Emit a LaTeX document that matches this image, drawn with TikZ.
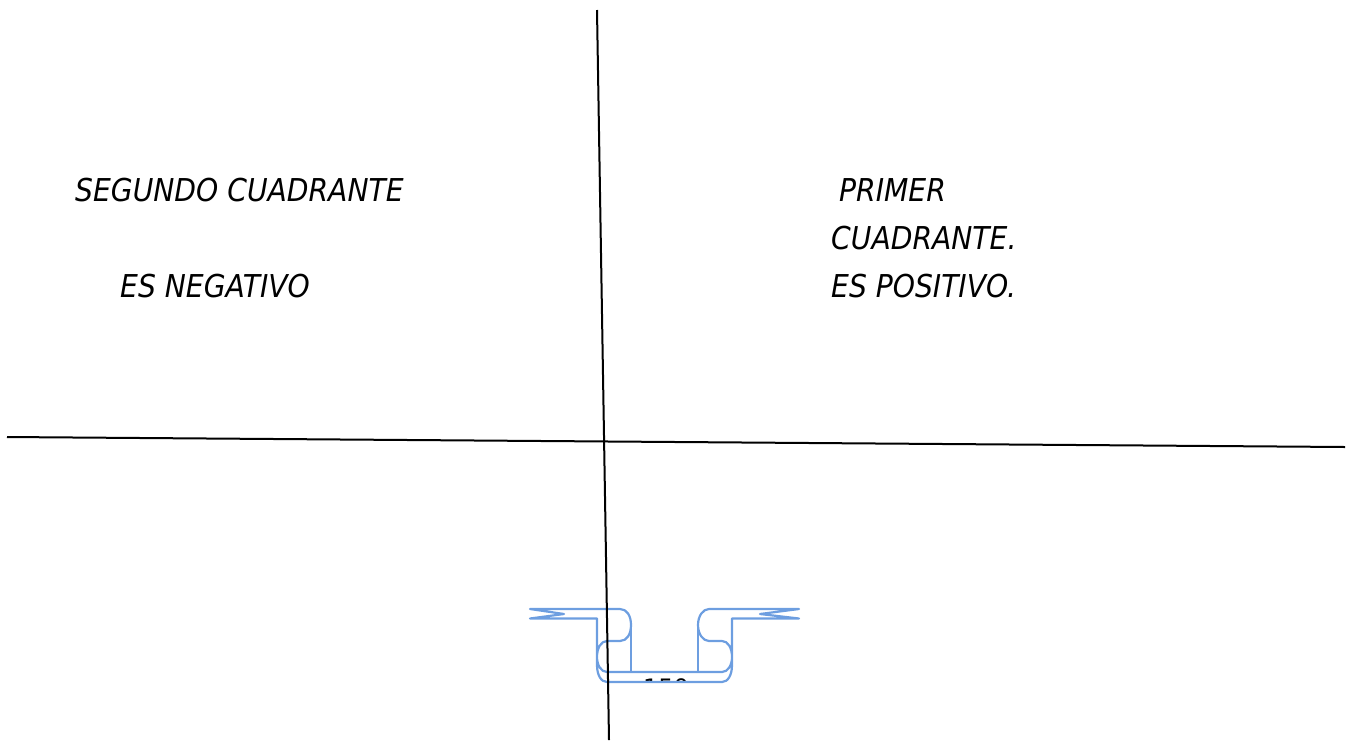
\documentclass[tikz,border=0pt]{standalone}
\usepackage{fontspec}
\setmainfont{DejaVu Sans}
\newfontfamily\cuadfont[FakeStretch=0.895]{DejaVu Sans}
\definecolor{ribbon}{HTML}{6D9EE0}
\tikzstyle{cuad}=[inner sep=0pt, anchor=base west, font=\cuadfont\fontsize{31.5}{38}\selectfont\itshape]
\tikzstyle{num}=[inner sep=0pt, anchor=base, font=\fontsize{24}{30}\selectfont]
\tikzstyle{axis}=[-, black, line width=2pt]
\tikzstyle{ribbonline}=[ribbon, line width=2.2pt, line join=round]
\begin{document}
\begin{tikzpicture}[x=1pt,y=-1pt]
	\useasboundingbox (0,0) rectangle (1350,740);
	
	%The texts
	\draw (75,201) node[cuad] (segundo) {SEGUNDO CUADRANTE};
	\draw (120,297) node[cuad] (negativo) {ES NEGATIVO};
	\draw (839,201) node[cuad] (primer) {PRIMER};
	\draw (831,249) node[cuad] (cuadrante) {CUADRANTE.};
	\draw (831,297) node[cuad] (positivo) {ES POSITIVO.};
	
	%The number cut off by the ribbon
	\begin{scope}
		\clip (600,650) rectangle (730,682);
		\draw (666,696) node[num] (numero) {150};
	\end{scope}
	
	%The ribbon
	\draw[ribbonline] (530,609) -- (620,609)
		.. controls (627,609) and (631,616) .. (631,625)
		.. controls (631,634) and (627,641) .. (620,641)
		-- (607,641)
		.. controls (601,641) and (597,648) .. (597,657)
		.. controls (597,665) and (601,672) .. (607,672)
		-- (722,672)
		.. controls (728,672) and (732,665) .. (732,657)
		.. controls (732,648) and (728,641) .. (722,641)
		-- (709,641)
		.. controls (703,641) and (698,634) .. (698,625)
		.. controls (698,616) and (703,609) .. (709,609)
		-- (799,609) -- (760,614) -- (799,618.5) -- (732,618.5) -- (732,665)
		.. controls (732,675) and (728,682) .. (722,682)
		-- (607,682)
		.. controls (601,682) and (597,675) .. (597,665)
		-- (597,618.5) -- (530,618.5) -- (564,614) -- cycle;
	\draw[ribbonline] (631,625) -- (631,672);
	\draw[ribbonline] (698,625) -- (698,672);
	
	%The axes
	\coordinate (ytop) at (597,10);
	\coordinate (ybot) at (609,740);
	\coordinate (xleft) at (7,437);
	\coordinate (xright) at (1345,447);
	\draw[axis] (ytop) -- (ybot);
	\draw[axis] (xleft) -- (xright);
\end{tikzpicture}
\end{document}
